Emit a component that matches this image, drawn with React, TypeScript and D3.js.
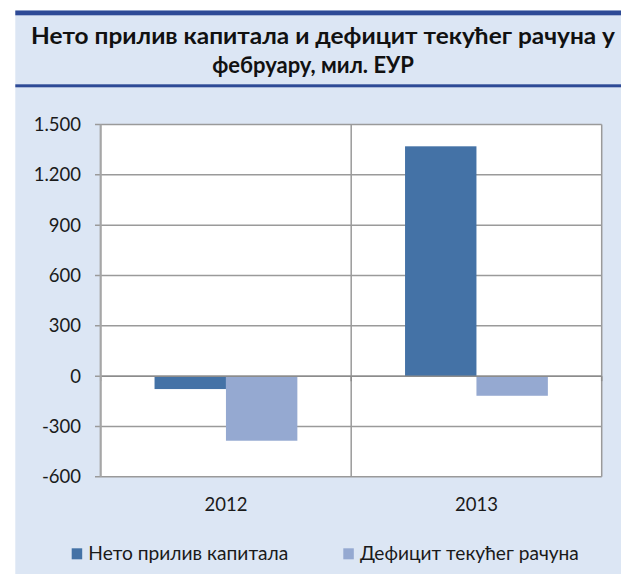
import React from "react";
import * as d3 from "d3";

const categories = ["2012", "2013"];
const seriesNames = ["Нето прилив капитала", "Дефицит текућег рачуна"];
const netCapitalInflow = [-77, 1370];
const currentAccountDeficit = [-385, -117];
const yTicks = [1500, 1200, 900, 600, 300, 0, -300, -600];
const titleLines = ["Нето прилив капитала и дефицит текућег рачуна у", "фебруару, мил. ЕУР"];

const colors = ["#4472A6", "#95A9D1"];
const W = 621;
const H = 574;
const FONT = "Lato, 'Open Sans', sans-serif";

const fmt = (v: number) => {
  const s = Math.abs(v).toString().replace(/\B(?=(\d{3})+(?!\d))/g, ".");
  return (v < 0 ? "-" : "") + s;
};

export default function App() {
  const left = 100.7;
  const right = 601.7;
  const top = 124.5;
  const bottom = 476.8;

  const x = d3.scaleBand<string>().domain(categories).range([left, right]).paddingInner(0).paddingOuter(0);
  const xs = d3
    .scaleBand<string>()
    .domain(seriesNames)
    .range([0, x.bandwidth()])
    .paddingInner(0)
    .paddingOuter(0.754);
  const y = d3.scaleLinear().domain([-600, 1500]).range([bottom, top]);

  const data = [netCapitalInflow, currentAccountDeficit];
  const y0 = y(0);

  return (
    <svg
      width={W}
      height={H}
      style={{ position: "absolute", left: 0, top: 0, display: "block" }}
      fontFamily={FONT}
    >
      <rect x={15.3} y={10.5} width={W - 15.3} height={H - 10.5} fill="#DCE6F4" />
      <rect x={15.3} y={10.5} width={W - 15.3} height={4.8} fill="#2E4A96" />
      <rect x={15.3} y={84.3} width={W - 15.3} height={3} fill="#2E4A96" />
      <text
        x={323}
        y={44}
        textAnchor="middle"
        fontWeight="bold"
        fontSize={22}
        fill="#111"
        textLength={584}
        lengthAdjust="spacingAndGlyphs"
      >
        {titleLines[0]}
      </text>
      <text x={313} y={73} textAnchor="middle" fontWeight="bold" fontSize={22} fill="#111">
        {titleLines[1]}
      </text>

      <rect x={left} y={top} width={right - left} height={bottom - top} fill="#fff" />
      {yTicks.map((t) => (
        <g key={t}>
          <line x1={95} x2={right} y1={y(t)} y2={y(t)} stroke="#9a9a9a" strokeWidth={1.5} />
          <text x={81} y={y(t) + 6.5} textAnchor="end" fontSize={18.5} fill="#1a1a1a">
            {fmt(t)}
          </text>
        </g>
      ))}
      {[left + x.bandwidth(), right].map((vx, i) => (
        <line key={i} x1={vx} x2={vx} y1={top} y2={bottom} stroke="#9a9a9a" strokeWidth={1.5} />
      ))}

      {categories.map((c, ci) =>
        seriesNames.map((s, si) => {
          const v = data[si][ci];
          const bx = (x(c) as number) + (xs(s) as number);
          return (
            <rect
              key={c + s}
              x={bx}
              y={Math.min(y(v), y0)}
              width={xs.bandwidth()}
              height={Math.abs(y(v) - y0)}
              fill={colors[si]}
            />
          );
        })
      )}

      <line x1={left} x2={right} y1={y0} y2={y0} stroke="#8c8c8c" strokeWidth={1.5} />
      {[left, left + x.bandwidth(), right].map((vx, i) => (
        <line key={i} x1={vx} x2={vx} y1={y0} y2={y0 + 5} stroke="#8c8c8c" strokeWidth={1.5} />
      ))}
      <line x1={left} x2={left} y1={top} y2={bottom} stroke="#a6a6a6" strokeWidth={2.2} />

      {categories.map((c) => (
        <text
          key={c}
          x={(x(c) as number) + x.bandwidth() / 2}
          y={511}
          textAnchor="middle"
          fontSize={18.5}
          fill="#1a1a1a"
        >
          {c}
        </text>
      ))}

      {seriesNames.map((s, i) => {
        const sx = [71.7, 343.3][i];
        const tl = [200, 219][i];
        return (
          <g key={s}>
            <rect x={sx} y={548.3} width={10.5} height={11} fill={colors[i]} />
            <text
              x={sx + 16.6}
              y={560}
              fontSize={18.5}
              fill="#1a1a1a"
              textLength={tl}
              lengthAdjust="spacingAndGlyphs"
            >
              {s}
            </text>
          </g>
        );
      })}
    </svg>
  );
}
